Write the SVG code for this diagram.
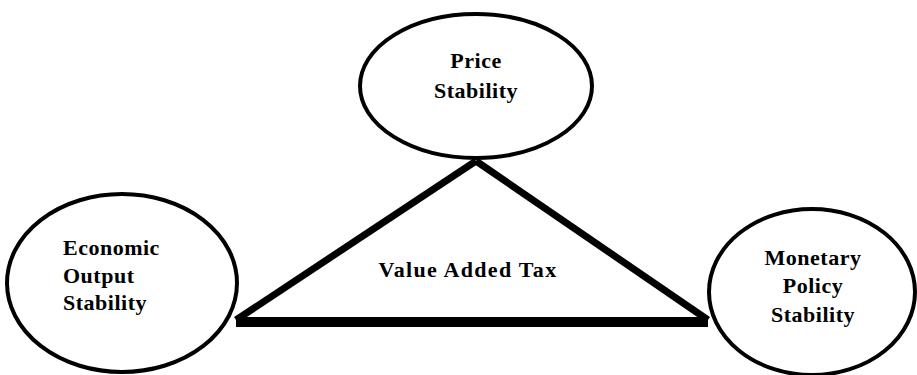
<svg xmlns="http://www.w3.org/2000/svg" width="917" height="375" viewBox="0 0 917 375">
<style>
.node{fill:#fff;stroke:#000;stroke-width:4}
.t{font-family:"Liberation Serif","Times New Roman",serif;font-weight:bold;font-size:22px;fill:#000;letter-spacing:0.5px}
.c{text-anchor:middle}
.edge{stroke:#000;fill:none;stroke-linecap:butt}
</style>
<rect width="917" height="375" fill="#fff"/>
<g id="connectors">
<line class="edge" x1="236" y1="320" x2="476" y2="161" stroke-width="7"/>
<line class="edge" x1="476" y1="161" x2="708" y2="320" stroke-width="7"/>
<line class="edge" x1="236" y1="322" x2="708" y2="322" stroke-width="10"/>
</g>
<g id="price">
<ellipse class="node" cx="476" cy="86" rx="116" ry="72"/>
<text class="t c" x="476" y="68">Price</text>
<text class="t c" x="476" y="98">Stability</text>
</g>
<g id="economic">
<ellipse class="node" cx="122" cy="283" rx="115" ry="89"/>
<text class="t" x="63" y="255">Economic</text>
<text class="t" x="63" y="283">Output</text>
<text class="t" x="63" y="310">Stability</text>
</g>
<g id="monetary">
<ellipse class="node" cx="812" cy="292" rx="103" ry="83"/>
<text class="t c" x="813" y="265">Monetary</text>
<text class="t c" x="813" y="293">Policy</text>
<text class="t c" x="813" y="322">Stability</text>
</g>
<g id="vat">
<text class="t c" x="468" y="277" style="letter-spacing:1.3px">Value Added Tax</text>
</g>
</svg>
